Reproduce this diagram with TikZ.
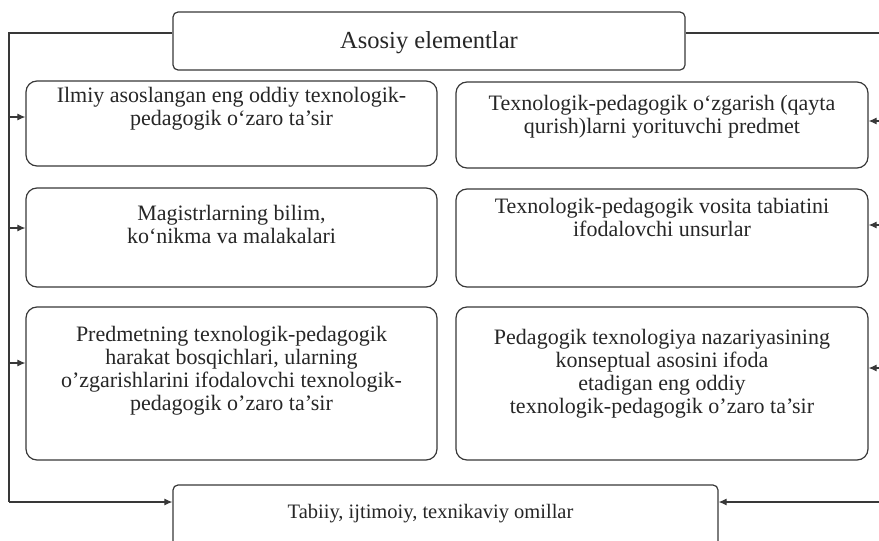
\documentclass[tikz,border=0pt]{standalone}
\usepackage{fontspec}
\setmainfont{Liberation Serif}
\usetikzlibrary{arrows.meta}
\definecolor{linec}{HTML}{383838}
\definecolor{textc}{HTML}{262626}
\newcommand\boxtext[4]{\parbox[c][#2][t]{#1}{\centering\fontsize{22}{23}\selectfont\vspace*{#3}\strut #4\par}}
\begin{document}
\begin{tikzpicture}[x=1pt,y=-1pt,
  box/.style={draw=linec, line width=1.2pt, rounded corners=11pt, inner sep=0pt, text=textc},
  wire/.style={draw=linec, line width=1.1pt},
  arr/.style={draw=linec, line width=1.1pt, -{Latex[length=8pt,width=7pt]}}]
\useasboundingbox (0,0) rectangle (879,541);
\clip (0,0) rectangle (879,541);

\node[box, rounded corners=5pt, minimum width=512pt, minimum height=58pt,
      font=\fontsize{24.5}{26}\selectfont, text height=17pt, text depth=2pt] (top) at (429,41) {Asosiy elementlar};

\node[box] (l1) at (231.5,123.5) {\boxtext{411pt}{85pt}{5pt}{Ilmiy asoslangan eng oddiy texnologik-\\ pedagogik o‘zaro ta’sir}};
\node[box] (r1) at (662,125) {\boxtext{412pt}{86pt}{12pt}{Texnologik-pedagogik o‘zgarish (qayta\\ qurish)larni yorituvchi predmet}};
\node[box] (l2) at (231.5,237.5) {\boxtext{411pt}{99pt}{16pt}{Magistrlarning  bilim,\\ ko‘nikma va malakalari}};
\node[box] (r2) at (662,238) {\boxtext{412pt}{98pt}{8pt}{Texnologik-pedagogik vosita tabiatini\\ ifodalovchi unsurlar}};
\node[box] (l3) at (231.5,383.5) {\boxtext{411pt}{153pt}{18pt}{Predmetning texnologik-pedagogik\\ harakat bosqichlari, ularning\\ o’zgarishlarini ifodalovchi texnologik-\\ pedagogik o’zaro ta’sir}};
\node[box] (r3) at (662,383.5) {\boxtext{412pt}{153pt}{21pt}{Pedagogik texnologiya nazariyasining\\ konseptual asosini ifoda\\ etadigan eng oddiy\\ texnologik-pedagogik o’zaro ta’sir}};

\node[box, rounded corners=5pt, minimum width=545pt, minimum height=63pt,
      font=\fontsize{20.5}{22}\selectfont, text height=13pt, text depth=10pt] (bot) at (445.5,516.5) {\hspace*{-30pt}Tabiiy, ijtimoiy, texnikaviy omillar};

\coordinate (tl) at (9,33);
\coordinate (bl) at (9,502);
\coordinate (tr) at (880.5,33);
\coordinate (br) at (880.5,502);
\coordinate (a1) at (9,117);
\coordinate (a2) at (9,228);
\coordinate (a3) at (9,363);
\coordinate (b1) at (880.5,121);
\coordinate (b2) at (880.5,225);
\coordinate (b3) at (880.5,368);

\draw[wire] (top.west |- tl) -- (tl) -- (bl);
\draw[wire] (top.east |- tr) -- (tr) -- (br);
\draw[arr] (bl) -- (bl -| bot.west);
\draw[arr] (br) -- (br -| bot.east);
\draw[arr] (a1) -- (a1 -| l1.west);
\draw[arr] (a2) -- (a2 -| l2.west);
\draw[arr] (a3) -- (a3 -| l3.west);
\draw[arr] (b1) -- (b1 -| r1.east);
\draw[arr] (b2) -- (b2 -| r2.east);
\draw[arr] (b3) -- (b3 -| r3.east);
\end{tikzpicture}
\end{document}
